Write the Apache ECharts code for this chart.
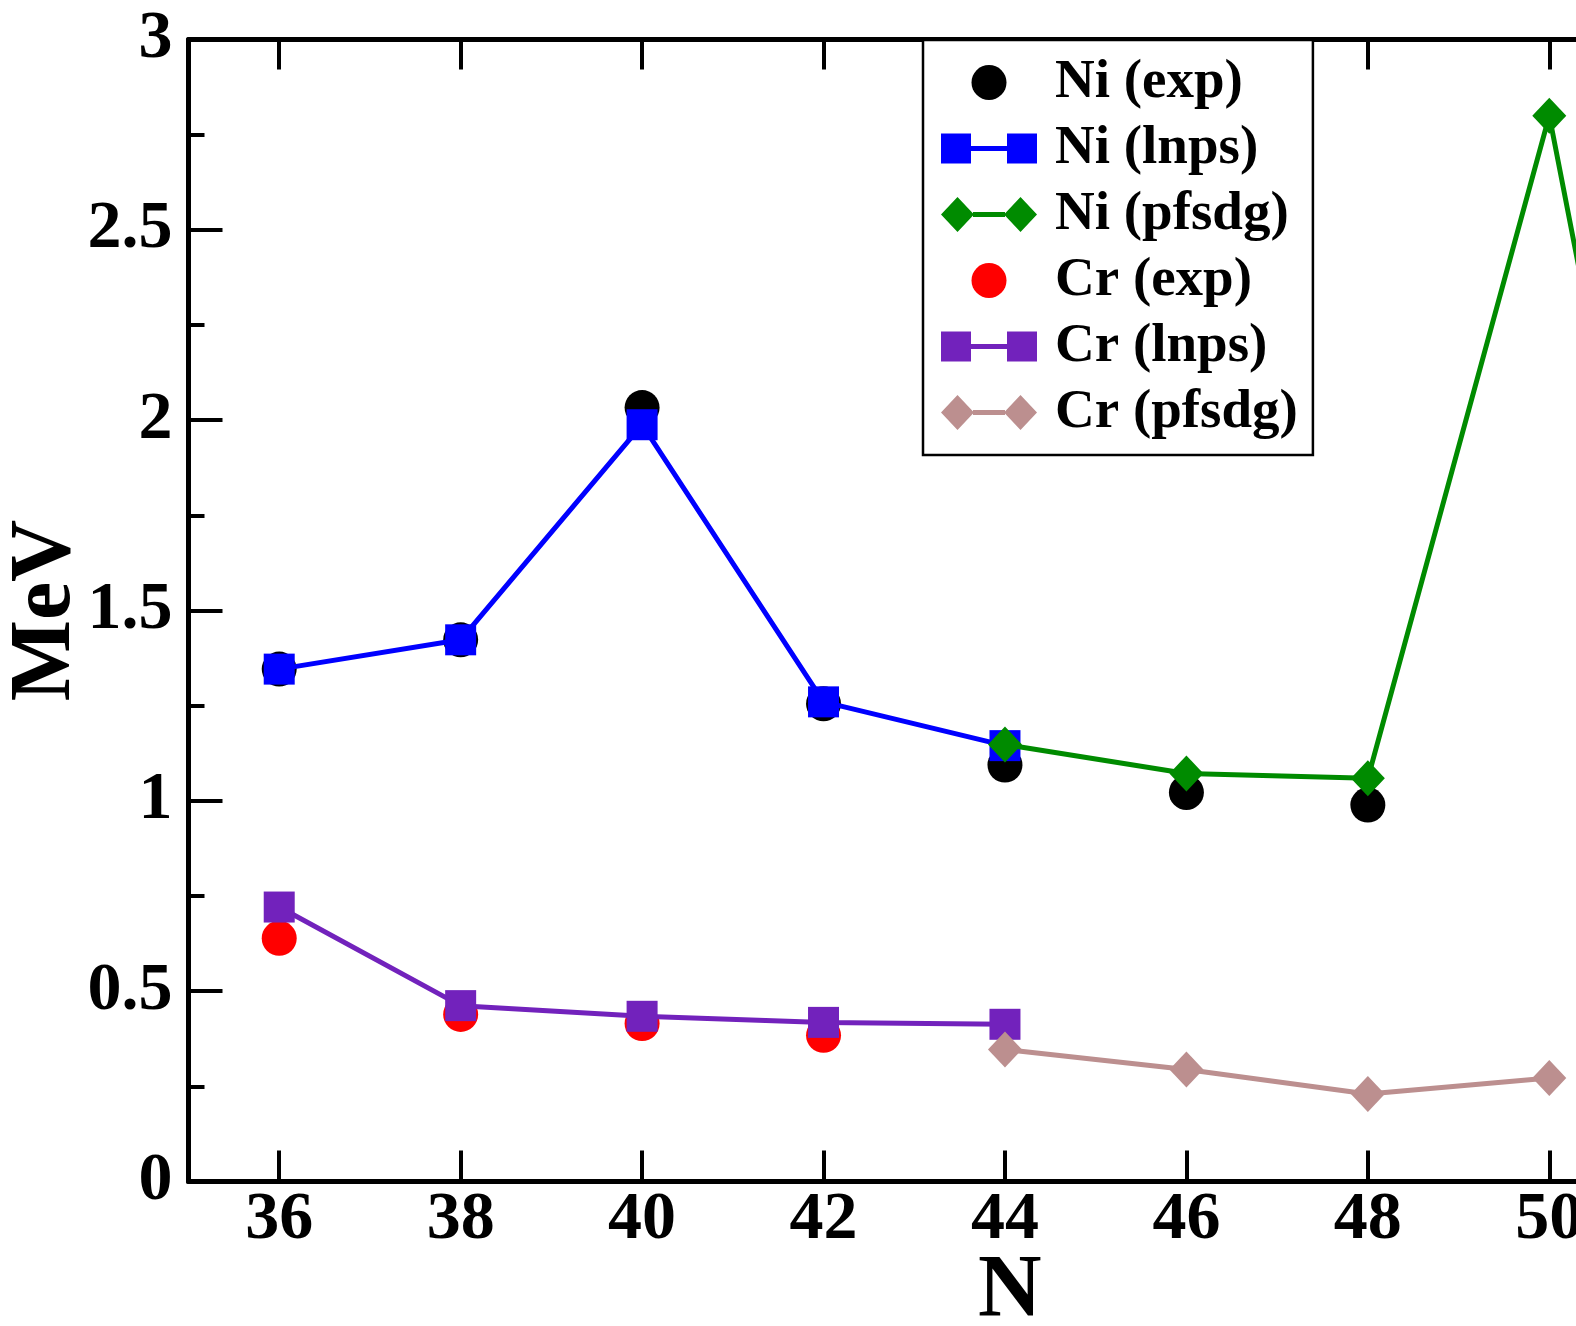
<!DOCTYPE html>
<html>
<head>
<meta charset="utf-8">
<script src="https://cdn.jsdelivr.net/npm/echarts@6/dist/echarts.min.js"></script>
<style>
html,body{margin:0;padding:0;background:#fff;}
#chart{width:1576px;height:1326px;}
</style>
</head>
<body>
<div id="chart"></div>
<script>
// ---- data ----
var xTickValues = [36, 38, 40, 42, 44, 46, 48, 50];
var niExpN   = [36, 38, 40, 42, 44, 46, 48];
var niExp    = [1.346, 1.423, 2.033, 1.255, 1.094, 1.022, 0.989];
var niLnpsN  = [36, 38, 40, 42, 44];
var niLnps   = [1.346, 1.423, 1.988, 1.260, 1.145];
var niPfsdgN = [44, 46, 48, 50, 52];
var niPfsdg  = [1.148, 1.072, 1.059, 2.800, 0.35];
var crExpN   = [36, 38, 40, 42];
var crExp    = [0.639, 0.439, 0.415, 0.384];
var crLnpsN  = [36, 38, 40, 42, 44];
var crLnps   = [0.721, 0.462, 0.434, 0.418, 0.413];
var crPfsdgN = [44, 46, 48, 50];
var crPfsdg  = [0.347, 0.294, 0.230, 0.272];
var seriesNames = ['Ni (exp)', 'Ni (lnps)', 'Ni (pfsdg)', 'Cr (exp)', 'Cr (lnps)', 'Cr (pfsdg)'];

function pairs(xs, ys) { return xs.map(function (x, i) { return [x, ys[i]]; }); }

var FONT = 'Liberation Serif, Times New Roman, serif';
var squareIcon = 'path://M0,2.5h30v30h-30z M30,15h36v5h-36z M66,2.5h30v30h-30z M48,0 M48,35';
var diamondIcon = 'path://M0,17.5L16.5,0L33,17.5L16.5,35z M32,15h32v5h-32z M63,17.5L79.5,0L96,17.5L79.5,35z';

var chart = echarts.init(document.getElementById('chart'), null, {renderer: 'canvas'});

var tickStyle = {color: '#000', width: 4};
var option = {
  backgroundColor: '#fff',
  animation: false,
  grid: {left: 188.5, top: 39.5, width: 1451.5, height: 1142, containLabel: false, outerBoundsMode: 'none'},
  xAxis: [{
    type: 'value', position: 'bottom', min: 35, max: 51,
    axisLine: {show: true, onZero: false, lineStyle: {color: '#000', width: 5}},
    axisTick: {show: true, inside: true, length: 31, lineStyle: tickStyle, customValues: xTickValues},
    axisLabel: {show: true, customValues: xTickValues, fontSize: 68, fontWeight: 'bold', fontFamily: FONT, color: '#000', margin: 5, lineHeight: 68},
    splitLine: {show: false}
  }, {
    type: 'value', position: 'top', min: 35, max: 51,
    axisLine: {show: true, onZero: false, lineStyle: {color: '#000', width: 5}},
    axisTick: {show: true, inside: true, length: 30, lineStyle: tickStyle, customValues: xTickValues},
    axisLabel: {show: false},
    splitLine: {show: false}
  }],
  yAxis: [{
    type: 'value', position: 'left', min: 0, max: 3, interval: 0.5,
    name: 'MeV', nameLocation: 'middle', nameGap: 99, nameRotate: 90, nameMoveOverlap: false,
    nameTextStyle: {fontSize: 86, fontWeight: 'bold', fontFamily: FONT, color: '#000', lineHeight: 86},
    axisLine: {show: true, onZero: false, lineStyle: {color: '#000', width: 5}},
    axisTick: {show: true, inside: true, length: 34, lineStyle: tickStyle},
    minorTick: {show: true, splitNumber: 2, length: 16, lineStyle: tickStyle},
    axisLabel: {fontSize: 68, fontWeight: 'bold', fontFamily: FONT, color: '#000', margin: 16},
    splitLine: {show: false}
  }, {
    type: 'value', position: 'right', min: 0, max: 3, interval: 0.5,
    axisLine: {show: true, onZero: false, lineStyle: {color: '#000', width: 5}},
    axisTick: {show: true, inside: true, length: 34, lineStyle: tickStyle},
    axisLabel: {show: false},
    splitLine: {show: false}
  }],
  legend: {
    orient: 'vertical', left: 923, top: 40,
    padding: [15, 15, 15, 18],
    backgroundColor: '#fff', borderColor: '#000', borderWidth: 2.5,
    itemWidth: 96, itemHeight: 35, itemGap: 11, itemTextGap: 19,
    selectedMode: false,
    textStyle: {fontSize: 55, lineHeight: 55, fontWeight: 'bold', fontFamily: FONT, color: '#000', padding: [0, 0, 0, 13]},
    data: [
      {name: seriesNames[0], icon: 'circle'},
      {name: seriesNames[1], icon: squareIcon},
      {name: seriesNames[2], icon: diamondIcon},
      {name: seriesNames[3], icon: 'circle'},
      {name: seriesNames[4], icon: squareIcon},
      {name: seriesNames[5], icon: diamondIcon}
    ]
  },
  graphic: [{
    type: 'text', left: 978, top: 1248,
    style: {text: 'N', fontSize: 88, fontWeight: 'bold', fontFamily: FONT, fill: '#000'}
  }],
  series: [
    {name: seriesNames[0], type: 'scatter', data: pairs(niExpN, niExp), symbol: 'circle', symbolSize: 35,
     itemStyle: {color: '#000000', opacity: 1}, z: 2},
    {name: seriesNames[1], type: 'line', data: pairs(niLnpsN, niLnps), symbol: 'rect', symbolSize: 31,
     itemStyle: {color: '#0000ff'}, lineStyle: {color: '#0000ff', width: 5}, z: 3},
    {name: seriesNames[2], type: 'line', data: pairs(niPfsdgN, niPfsdg), symbol: 'diamond', symbolSize: [34, 36],
     itemStyle: {color: '#008b00'}, lineStyle: {color: '#008b00', width: 5}, z: 4},
    {name: seriesNames[3], type: 'scatter', data: pairs(crExpN, crExp), symbol: 'circle', symbolSize: 35,
     itemStyle: {color: '#ff0000', opacity: 1}, z: 5},
    {name: seriesNames[4], type: 'line', data: pairs(crLnpsN, crLnps), symbol: 'rect', symbolSize: 31,
     itemStyle: {color: '#7222bc'}, lineStyle: {color: '#7222bc', width: 5}, z: 6},
    {name: seriesNames[5], type: 'line', data: pairs(crPfsdgN, crPfsdg), symbol: 'diamond', symbolSize: [34, 36],
     itemStyle: {color: '#bc8f8f'}, lineStyle: {color: '#bc8f8f', width: 5}, z: 7}
  ]
};
chart.setOption(option);
</script>
</body>
</html>
